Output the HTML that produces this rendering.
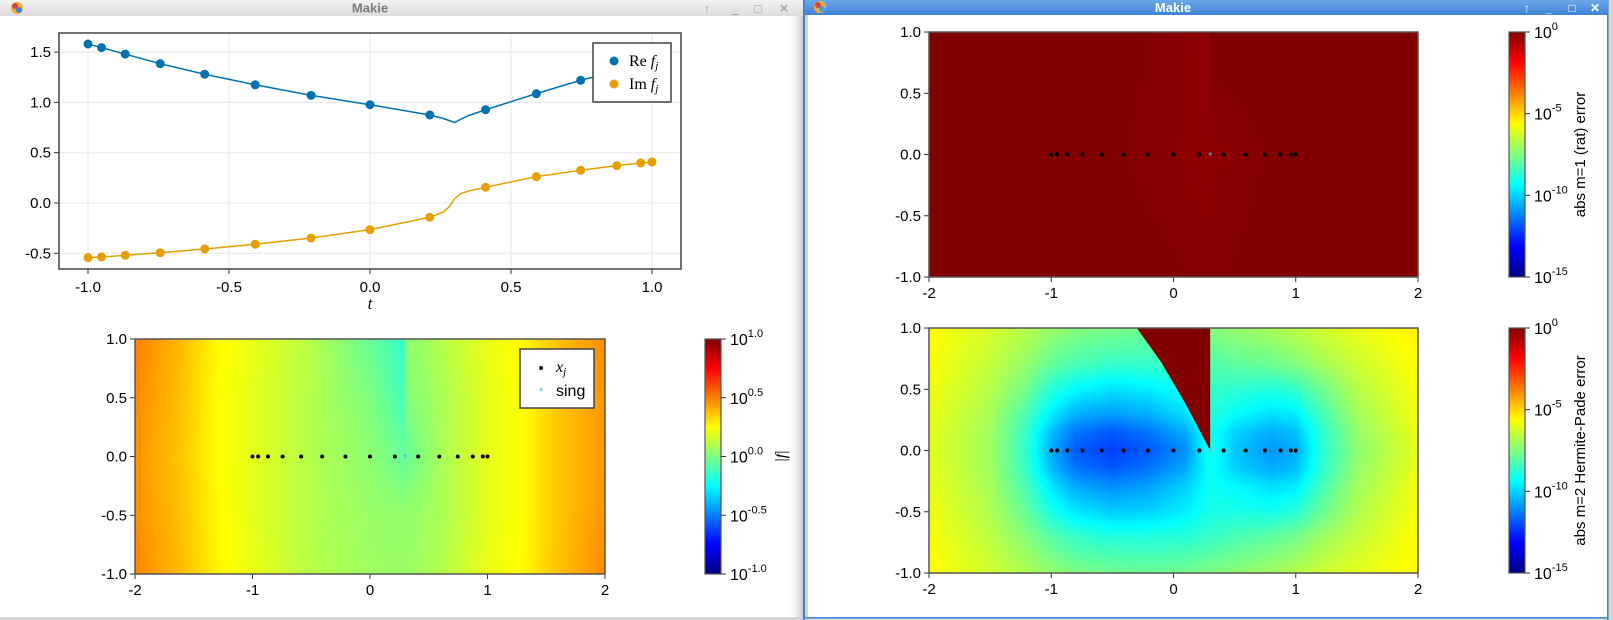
<!DOCTYPE html>
<html><head><meta charset="utf-8"><style>
html,body{margin:0;padding:0;background:#d4d4d4;}
#root{position:relative;width:1613px;height:620px;overflow:hidden;background:#d4d4d4;font-family:"Liberation Sans",sans-serif;}
canvas{position:absolute;z-index:1;}
svg{position:absolute;left:0;top:0;}
#bg{z-index:0;}
#ov{z-index:2;}
</style></head><body>
<div id="root">
<svg id="bg" width="1613" height="620" xmlns="http://www.w3.org/2000/svg">
<defs>
<linearGradient id="tbL" x1="0" y1="0" x2="0" y2="1"><stop offset="0" stop-color="#f2f2f2"/><stop offset="1" stop-color="#dcdcdc"/></linearGradient>
<linearGradient id="tbR" x1="0" y1="0" x2="0" y2="1"><stop offset="0" stop-color="#6aa8ea"/><stop offset="1" stop-color="#3d82d6"/></linearGradient>
<linearGradient id="shd" x1="0" y1="0" x2="1" y2="0"><stop offset="0" stop-color="#ffffff" stop-opacity="0"/><stop offset="1" stop-color="#c8c8c8"/></linearGradient>
</defs>
<g id="bglayer"></g>
</svg>
<canvas id="hmL"></canvas>
<canvas id="hmR1"></canvas>
<canvas id="hmR2"></canvas>
<svg id="ov" width="1613" height="620" xmlns="http://www.w3.org/2000/svg">
<defs>
<linearGradient id="jet" x1="0" y1="1" x2="0" y2="0">
<stop offset="0" stop-color="#00007f"/><stop offset="0.125" stop-color="#0000ff"/><stop offset="0.375" stop-color="#00ffff"/><stop offset="0.625" stop-color="#ffff00"/><stop offset="0.875" stop-color="#ff0000"/><stop offset="1" stop-color="#7f0000"/>
</linearGradient>
</defs>
<g id="layer"></g>
</svg>
</div>
<script>
// ---------- data ----------
const nodes = [-1,-0.952,-0.868,-0.744,-0.586,-0.407,-0.209,0,0.212,0.41,0.59,0.747,0.875,0.96,1.0];
const reVals = [1.58,1.545,1.48,1.385,1.28,1.175,1.07,0.977,0.875,0.927,1.087,1.22,1.31,1.37,1.40];
const imVals = [-0.543,-0.537,-0.52,-0.494,-0.457,-0.41,-0.348,-0.265,-0.142,0.156,0.262,0.325,0.371,0.398,0.408];
const curveT  = [-1,-0.952,-0.868,-0.744,-0.586,-0.407,-0.209,0,0.212,0.26,0.28,0.3,0.32,0.35,0.41,0.59,0.747,0.875,0.96,1];
const curveRe = [1.58,1.545,1.48,1.385,1.28,1.175,1.07,0.977,0.875,0.84,0.82,0.80,0.83,0.87,0.927,1.087,1.22,1.31,1.37,1.40];
const curveIm = [-0.543,-0.537,-0.52,-0.494,-0.457,-0.41,-0.348,-0.265,-0.142,-0.09,-0.04,0.04,0.09,0.12,0.156,0.262,0.325,0.371,0.398,0.408];
const singX = 0.3, singY = 0;
const lineXTicks = [-1,-0.5,0,0.5,1];
const lineXTickLabels = ["-1.0","-0.5","0.0","0.5","1.0"];
const lineYTicks = [1.5,1.0,0.5,0.0,-0.5];
const lineYTickLabels = ["1.5","1.0","0.5","0.0","-0.5"];
const hmXTicks = [-2,-1,0,1,2];
const hmXTickLabels = ["-2","-1","0","1","2"];
const hmYTicks = [1,0.5,0,-0.5,-1];
const hmYTickLabels = ["1.0","0.5","0.0","-0.5","-1.0"];
const cbLTicks = [1,0.5,0,-0.5,-1];
const cbLTickLabels = ["1.0","0.5","0.0","-0.5","-1.0"];
const cbRTicks = [0,-5,-10,-15];
const cbRTickLabels = ["0","-5","-10","-15"];
const gLx = [-2,-1.6,-1.3,-1,-0.5,0,0.299,0.301,0.6,1,1.3,1.6,2];
const gLy = [1,0.5,0,-0.5,-1];
const gLv = [
 [0.50,0.38,0.26,0.21,0.11,-0.05,-0.15,0.02,0.10,0.21,0.26,0.37,0.48],
 [0.48,0.37,0.25,0.20,0.10,0.00,-0.12,0.00,0.08,0.20,0.25,0.36,0.46],
 [0.46,0.36,0.25,0.20,0.10,0.03,-0.05,-0.05,0.08,0.20,0.25,0.36,0.45],
 [0.47,0.37,0.26,0.20,0.10,0.05,0.04,0.04,0.08,0.20,0.25,0.36,0.46],
 [0.49,0.38,0.27,0.21,0.11,0.06,0.05,0.05,0.10,0.21,0.26,0.37,0.48]];
const gR1x = [-2,-0.5,0,0.299,0.301,0.8,2];
const gR1y = [1,0,-1];
const gR1v = [
 [0,0,-0.12,-0.25,0,0,0],
 [0,-0.05,-0.15,-0.25,-0.2,-0.05,0],
 [0,0,-0.05,-0.1,-0.1,0,0]];
const gR2x = [-2,-1.5,-1.2,-1,-0.8,-0.5,-0.2,0.1,0.3,0.5,0.8,1,1.2,1.5,2];
const gR2y = [1,0.7,0.5,0.3,0.15,0,-0.15,-0.3,-0.5,-0.7,-1];
const gR2v = [
 [-5.6,-6.2,-6.7,-7.1,-7.4,-7.6,-7.7,-7.6,-7.4,-7.2,-6.9,-6.6,-6.3,-5.9,-5.4],
 [-5.7,-6.5,-7.2,-7.9,-8.3,-8.6,-8.6,-8.4,-8.2,-8.0,-7.8,-7.5,-7.0,-6.4,-5.6],
 [-5.8,-6.7,-7.7,-8.8,-9.4,-9.8,-9.6,-9.2,-8.6,-8.7,-8.9,-8.6,-7.8,-6.7,-5.7],
 [-5.9,-6.9,-8.3,-9.6,-10.5,-10.8,-10.5,-9.8,-8.8,-9.3,-9.8,-9.6,-8.4,-7.0,-5.8],
 [-6.0,-7.0,-8.6,-10.3,-11.4,-11.8,-11.4,-10.6,-9.0,-10.0,-10.6,-10.3,-8.8,-7.2,-5.9],
 [-6.0,-7.0,-8.7,-10.6,-11.8,-12.2,-11.8,-11,-9.0,-10.2,-10.9,-10.6,-8.9,-7.3,-6.0],
 [-6.0,-7.0,-8.6,-10.3,-11.4,-11.8,-11.4,-10.6,-9.2,-10.0,-10.6,-10.3,-8.8,-7.2,-5.9],
 [-5.9,-6.9,-8.3,-9.7,-10.6,-11.0,-10.7,-10.0,-9.2,-9.4,-9.8,-9.6,-8.4,-7.0,-5.8],
 [-5.8,-6.8,-7.9,-9.0,-9.7,-10.1,-10.0,-9.6,-9.0,-9.0,-9.1,-8.8,-7.9,-6.8,-5.7],
 [-5.7,-6.6,-7.4,-8.1,-8.6,-8.9,-8.9,-8.8,-8.6,-8.3,-8.0,-7.7,-7.1,-6.5,-5.6],
 [-5.6,-6.3,-6.8,-7.2,-7.5,-7.7,-7.8,-7.7,-7.5,-7.3,-7.0,-6.7,-6.4,-6.0,-5.5]];
const wedgeX = [0.3,0.3,-0.30,-0.1,0.1,0.29];
const wedgeY = [0.02,1,1,0.72,0.38,0.02];

// ---------- helpers ----------
const NS="http://www.w3.org/2000/svg";
const layer=document.getElementById('layer');
const bglayer=document.getElementById('bglayer');
function mk(tag,attrs,parent){const e=document.createElementNS(NS,tag);for(const k in attrs)e.setAttribute(k,attrs[k]);(parent||layer).appendChild(e);return e;}
function txt(x,y,s,attrs,parent){const e=mk('text',Object.assign({x:x,y:y,'font-family':'Liberation Sans, sans-serif','font-size':15,fill:'#000'},attrs),parent);e.textContent=s;return e;}
function jet(t){t=Math.max(0,Math.min(1,t));const c=v=>Math.round(255*Math.max(0,Math.min(1,v)));return [c(1.5-Math.abs(4*t-3)),c(1.5-Math.abs(4*t-2)),c(1.5-Math.abs(4*t-1))];}
function seg(arr,v){
 const asc=arr[0]<arr[arr.length-1];
 for(let i=0;i<arr.length-1;i++){const a=arr[i],b=arr[i+1];if(asc?(v>=a&&v<=b):(v<=a&&v>=b))return [i,(v-a)/(b-a)];}
 return asc?(v<arr[0]?[0,0]:[arr.length-2,1]):(v>arr[0]?[0,0]:[arr.length-2,1]);}
function interp(xs,ys,g,x,y){const [i,fx]=seg(xs,x);const [j,fy]=seg(ys,y);
 const a=g[j][i]*(1-fx)+g[j][i+1]*fx, b=g[j+1][i]*(1-fx)+g[j+1][i+1]*fx; return a*(1-fy)+b*fy;}
function drawHeat(id,box,xs,ys,g,vmin,vmax){
 const cv=document.getElementById(id);const w=box.x1-box.x0,h=box.y1-box.y0;
 cv.width=w;cv.height=h;cv.style.left=box.x0+'px';cv.style.top=box.y0+'px';
 const ctx=cv.getContext('2d');const im=ctx.createImageData(w,h);
 for(let py=0;py<h;py++){const y=1-2*(py+0.5)/h;for(let px=0;px<w;px++){const x=-2+4*(px+0.5)/w;
  const v=interp(xs,ys,g,x,y);const c=jet((v-vmin)/(vmax-vmin));const k=4*(py*w+px);
  im.data[k]=c[0];im.data[k+1]=c[1];im.data[k+2]=c[2];im.data[k+3]=255;}}
 ctx.putImageData(im,0,0);}
function scaleX(box,lo,hi){return v=>box.x0+(v-lo)/(hi-lo)*(box.x1-box.x0);}
function scaleY(box,lo,hi){return v=>box.y1-(v-lo)/(hi-lo)*(box.y1-box.y0);}

// ---------- windows ----------
let e;
e=mk('rect',{x:0,y:0,width:803,height:617,fill:'#ffffff'},bglayer);

mk('rect',{x:788,y:16,width:15,height:601,fill:'url(#shd)'},bglayer);
e=mk('rect',{x:0,y:0,width:803,height:16,fill:'url(#tbL)'},bglayer);

e=txt(370,12.5,'Makie',{'text-anchor':'middle','font-size':13,'font-weight':'bold',fill:'#7a7a7a'},bglayer);

mk('circle',{cx:17,cy:8,r:6,fill:'#f0b030'},bglayer);mk('circle',{cx:15,cy:6,r:3,fill:'#e04040'},bglayer);mk('circle',{cx:19,cy:10,r:3,fill:'#4080e0'},bglayer);
[['↑',707],['_',735],['□',758],['✕',784]].forEach(([s,x])=>{e=txt(x,12.5,s,{'text-anchor':'middle','font-size':12,fill:'#999'},bglayer);
 });
mk('rect',{x:803,y:0,width:2,height:620,fill:'#3b86d8'},bglayer);
e=mk('rect',{x:808,y:15,width:799,height:602,fill:'#ffffff'},bglayer);

mk('rect',{x:1607,y:0,width:1.5,height:620,fill:'#3b86d8'},bglayer);
mk('rect',{x:805,y:617,width:803,height:1.5,fill:'#3b86d8'},bglayer);
e=mk('rect',{x:805,y:0,width:803,height:15,fill:'url(#tbR)'},bglayer);

e=txt(1173,12,'Makie',{'text-anchor':'middle','font-size':13,'font-weight':'bold',fill:'#ffffff'},bglayer);

mk('circle',{cx:820,cy:7,r:6,fill:'#f0b030'},bglayer);mk('circle',{cx:818,cy:5,r:3,fill:'#e04040'},bglayer);mk('circle',{cx:822,cy:9,r:3,fill:'#40a0e0'},bglayer);
[['↑',1527],['_',1549],['□',1572],['✕',1595]].forEach(([s,x])=>{e=txt(x,12,s,{'text-anchor':'middle','font-size':12,'font-weight':'bold',fill:'#fff'},bglayer);
 });

// ---------- top-left line chart ----------
const bTL={x0:59,x1:681,y0:33,y1:269};
const lx=v=>370+v*282, ly=v=>203-v*100.6;
const gTL=mk('g',{});
lineXTicks.forEach((t,i)=>{mk('line',{x1:lx(t),x2:lx(t),y1:bTL.y0,y2:bTL.y1,stroke:'#e8e8e8','stroke-width':1},gTL);
 mk('line',{x1:lx(t),x2:lx(t),y1:bTL.y1,y2:bTL.y1+5,stroke:'#333','stroke-width':1},gTL);
 e=txt(lx(t),292,lineXTickLabels[i],{'text-anchor':'middle'},gTL);});
lineYTicks.forEach((t,i)=>{mk('line',{x1:bTL.x0,x2:bTL.x1,y1:ly(t),y2:ly(t),stroke:'#e8e8e8','stroke-width':1},gTL);
 mk('line',{x1:bTL.x0-5,x2:bTL.x0,y1:ly(t),y2:ly(t),stroke:'#333','stroke-width':1},gTL);
 e=txt(bTL.x0-8,ly(t)+5,lineYTickLabels[i],{'text-anchor':'end'},gTL);});
e=mk('path',{d:curveT.map((t,i)=>(i?'L':'M')+lx(t)+','+ly(curveRe[i])).join(''),fill:'none',stroke:'#0072b2','stroke-width':1.5},gTL);

e=mk('path',{d:curveT.map((t,i)=>(i?'L':'M')+lx(t)+','+ly(curveIm[i])).join(''),fill:'none',stroke:'#e69f00','stroke-width':1.5},gTL);

nodes.forEach((t,i)=>{e=mk('circle',{cx:lx(t),cy:ly(reVals[i]),r:4.5,fill:'#0072b2'},gTL);
 
 e=mk('circle',{cx:lx(t),cy:ly(imVals[i]),r:4.5,fill:'#e69f00'},gTL);
 });
e=mk('rect',{x:bTL.x0,y:bTL.y0,width:bTL.x1-bTL.x0,height:bTL.y1-bTL.y0,fill:'none',stroke:'#444','stroke-width':1.5},gTL);

e=txt(370,309,'t',{'text-anchor':'middle','font-family':'Liberation Serif, serif','font-style':'italic','font-size':17},gTL);

const lg=mk('g',{},gTL);
mk('rect',{x:593,y:43,width:78,height:59,fill:'#fff',stroke:'#444','stroke-width':1.5},lg);
e=mk('circle',{cx:614,cy:61,r:4.5,fill:'#0072b2'},lg);
e=mk('circle',{cx:614,cy:84,r:4.5,fill:'#e69f00'},lg);
e=mk('text',{x:629,y:66,'font-family':'Liberation Serif, serif','font-size':16},lg);e.innerHTML='Re <tspan font-style="italic">f</tspan><tspan font-style="italic" font-size="11" dy="3">j</tspan>';

e=mk('text',{x:629,y:89,'font-family':'Liberation Serif, serif','font-size':16},lg);e.innerHTML='Im <tspan font-style="italic">f</tspan><tspan font-style="italic" font-size="11" dy="3">j</tspan>';


// ---------- heatmap panels ----------
function heatPanel(name,box){
 const g=mk('g',{});
 const sx=scaleX(box,-2,2), sy=scaleY(box,-1,1);
 hmXTicks.forEach((t,i)=>{mk('line',{x1:sx(t),x2:sx(t),y1:box.y1,y2:box.y1+5,stroke:'#333'},g);
  e=txt(sx(t),box.y1+21,hmXTickLabels[i],{'text-anchor':'middle'},g);});
 hmYTicks.forEach((t,i)=>{mk('line',{x1:box.x0-5,x2:box.x0,y1:sy(t),y2:sy(t),stroke:'#333'},g);
  e=txt(box.x0-8,sy(t)+5,hmYTickLabels[i],{'text-anchor':'end'},g);});
 return {g,sx,sy};}
function nodeDots(p){nodes.forEach(t=>{e=mk('circle',{cx:p.sx(t),cy:p.sy(0),r:2,fill:'#000'},p.g);
  });
 e=txt(p.sx(singX),p.sy(singY)+5,'*',{'text-anchor':'middle','font-size':11,fill:'#56b4e9'},p.g);
 }
function frame(box,g){e=mk('rect',{x:box.x0,y:box.y0,width:box.x1-box.x0,height:box.y1-box.y0,fill:'none',stroke:'#555','stroke-width':1.5},g);
 }
function colorbar(cb,vals,lbls,lo,hi,label,lx_,name){
 const g=mk('g',{});
 mk('rect',{x:cb.x0,y:cb.y0,width:cb.x1-cb.x0,height:cb.y1-cb.y0,fill:'url(#jet)',stroke:'#555','stroke-width':1.2},g);
 const s=scaleY(cb,lo,hi);
 vals.forEach((v,i)=>{mk('line',{x1:cb.x1,x2:cb.x1+5,y1:s(v),y2:s(v),stroke:'#333'},g);
  e=mk('text',{x:cb.x1+9,y:s(v)+6,'font-family':'Liberation Sans, sans-serif','font-size':16},g);
  e.innerHTML='10<tspan font-size="11" dy="-8">'+lbls[i]+'</tspan>';
  });
 if(label){const cy=(cb.y0+cb.y1)/2;
 e=txt(lx_,cy,label,{'text-anchor':'middle','font-size':15,transform:'rotate(-90 '+lx_+' '+cy+')'},g);
 }}

// bottom-left
const bBL={x0:135,x1:605,y0:339,y1:574};
drawHeat('hmL',bBL,gLx,gLy,gLv,-1,1);
const pBL=heatPanel('abs-f-heatmap-panel',bBL);
nodeDots(pBL);frame(bBL,pBL.g);
const lg2=mk('g',{},pBL.g);
mk('rect',{x:520,y:349,width:74,height:59,fill:'#fff',stroke:'#444','stroke-width':1.5},lg2);
mk('circle',{cx:541,cy:368,r:2,fill:'#000'},lg2);
e=mk('text',{x:556,y:372,'font-family':'Liberation Serif, serif','font-size':16,'font-style':'italic'},lg2);e.innerHTML='x<tspan font-size="11" dy="3">j</tspan>';

txt(541,395,'*',{'text-anchor':'middle','font-size':11,fill:'#56b4e9'},lg2);
e=txt(556,396,'sing',{'font-size':16},lg2);
colorbar({x0:705,x1:721,y0:339,y1:574},cbLTicks,cbLTickLabels,-1,1,'',0,'abs-f-colorbar');
e=mk('text',{x:786,y:456,'font-family':'Liberation Serif, serif','font-size':16,'text-anchor':'middle',transform:'rotate(-90 786 456)'});
e.innerHTML='|<tspan font-style="italic">f</tspan>|';

// right-top
const bRT={x0:929,x1:1418,y0:32,y1:277};
drawHeat('hmR1',bRT,gR1x,gR1y,gR1v,-15,0);
const pRT=heatPanel('rat-error-heatmap-panel',bRT);
nodeDots(pRT);frame(bRT,pRT.g);
colorbar({x0:1509,x1:1525,y0:32,y1:277},cbRTicks,cbRTickLabels,-15,0,'abs m=1 (rat) error',1585,'rat-error-colorbar');

// right-bottom
const bRB={x0:929,x1:1418,y0:328,y1:573};
drawHeat('hmR2',bRB,gR2x,gR2y,gR2v,-15,0);
const pRB=heatPanel('hermite-pade-heatmap-panel',bRB);
e=mk('polygon',{points:wedgeX.map((x,i)=>pRB.sx(x)+','+pRB.sy(wedgeY[i])).join(' '),fill:'#800000'},pRB.g);

nodeDots(pRB);frame(bRB,pRB.g);
colorbar({x0:1509,x1:1525,y0:328,y1:573},cbRTicks,cbRTickLabels,-15,0,'abs m=2 Hermite-Pade error',1585,'hermite-pade-colorbar');
</script>
</body></html>
